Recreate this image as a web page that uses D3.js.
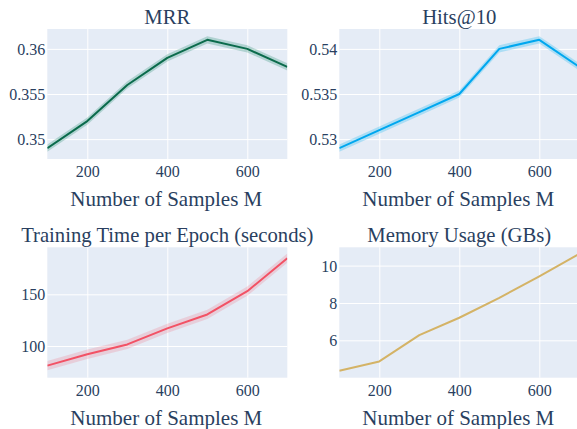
<!DOCTYPE html>
<html><head><meta charset="utf-8">
<script src="https://cdn.jsdelivr.net/npm/d3@7"></script>
<style>
html,body{margin:0;padding:0;background:#fff;overflow:hidden;}
svg{display:block;}
</style></head>
<body>
<svg id="c" width="577" height="429"></svg>
<script>
const samples = [100, 200, 300, 400, 500, 600, 700];
const xTicks = [200, 400, 600];

const mrr      = [0.3490, 0.3520, 0.3560, 0.3590, 0.3610, 0.3600, 0.3580];
const mrrLow   = [0.3486, 0.3516, 0.3556, 0.3586, 0.3606, 0.3596, 0.3576];
const mrrHigh  = [0.3494, 0.3524, 0.3564, 0.3594, 0.3614, 0.3604, 0.3584];

const hits     = [0.5290, 0.5310, 0.5330, 0.5350, 0.5400, 0.5410, 0.5380];
const hitsLow  = [0.5286, 0.5306, 0.5326, 0.5346, 0.5396, 0.5406, 0.5376];
const hitsHigh = [0.5294, 0.5314, 0.5334, 0.5354, 0.5404, 0.5414, 0.5384];

const timeSec  = [81, 92, 101.5, 117, 130.5, 153, 185];
const timeLow  = [76.5, 87.5, 97, 112.5, 126, 148.5, 180.5];
const timeHigh = [85.5, 96.5, 106, 121.5, 135, 157.5, 189.5];

const memory   = [4.37, 4.87, 6.28, 7.21, 8.27, 9.43, 10.63];

const titles = ["MRR", "Hits@10", "Training Time per Epoch (seconds)", "Memory Usage (GBs)"];
const yTicks = [[0.35, 0.355, 0.36], [0.53, 0.535, 0.54], [100, 150], [6, 8, 10]];
const yFormats = [d3.format(""), d3.format(""), d3.format("d"), d3.format("d")];
const yDomains = [[0.3478, 0.3622], [0.5278, 0.5422], [69.3, 195.5], [4.0, 10.98]];
const xLabel = "Number of Samples M";

const FONT = "Liberation Serif";
const INK = "#2a3f5f";

const panels = [
  {x0: 47.3, x1: 287.3, y0: 29, y1: 159, v: mrr, lo: mrrLow, hi: mrrHigh, line: "#0b6b4c", band: "rgba(20,130,100,0.25)"},
  {x0: 339.3, x1: 579.3, y0: 29, y1: 159, v: hits, lo: hitsLow, hi: hitsHigh, line: "#00a7ef", band: "rgba(0,175,240,0.25)"},
  {x0: 47.3, x1: 287.3, y0: 247.3, y1: 377.7, v: timeSec, lo: timeLow, hi: timeHigh, line: "#f25265", band: "rgba(240,100,120,0.22)"},
  {x0: 339.3, x1: 579.3, y0: 247.3, y1: 377.7, v: memory, lo: null, hi: null, line: "#d4b366", band: null}
];

const svg = d3.select("#c");

panels.forEach((p, i) => {
  const x = d3.scaleLinear().domain([100, 700]).range([p.x0, p.x1]);
  const y = d3.scaleLinear().domain(yDomains[i]).range([p.y1, p.y0]);
  const g = svg.append("g");
  const clipId = "clip" + i;
  g.append("clipPath").attr("id", clipId).append("rect")
    .attr("x", p.x0).attr("y", p.y0).attr("width", p.x1 - p.x0).attr("height", p.y1 - p.y0);
  g.append("rect").attr("x", p.x0).attr("y", p.y0).attr("width", p.x1 - p.x0).attr("height", p.y1 - p.y0)
    .attr("fill", "#e5ecf6");

  const gx = g.append("g").attr("transform", `translate(0,${p.y1})`)
    .call(d3.axisBottom(x).tickValues(xTicks).tickSize(-(p.y1 - p.y0)).tickSizeOuter(0));
  gx.attr("font-family", FONT).attr("font-size", 16);
  gx.select(".domain").remove();
  gx.selectAll("line").attr("stroke", "#fff").attr("stroke-width", 1);
  gx.selectAll("text").attr("font-family", FONT).attr("font-size", 16).attr("fill", INK)
    .style("font-family", FONT).attr("dy", null).attr("y", 18);

  const gy = g.append("g").attr("transform", `translate(${p.x0},0)`)
    .call(d3.axisLeft(y).tickValues(yTicks[i]).tickFormat(yFormats[i]).tickSize(-(p.x1 - p.x0)).tickSizeOuter(0));
  gy.attr("font-family", FONT).attr("font-size", 16);
  gy.select(".domain").remove();
  gy.selectAll("line").attr("stroke", "#fff").attr("stroke-width", 1);
  gy.selectAll("text").attr("font-family", FONT).attr("font-size", 16).attr("fill", INK)
    .style("font-family", FONT).attr("x", -2).attr("dy", "0.35em");

  const data = samples.map((s, k) => ({s, v: p.v[k], lo: p.lo ? p.lo[k] : null, hi: p.hi ? p.hi[k] : null}));
  const plot = g.append("g").attr("clip-path", `url(#${clipId})`);
  if (p.lo) {
    plot.append("path").datum(data)
      .attr("d", d3.area().x(d => x(d.s)).y0(d => y(d.lo)).y1(d => y(d.hi)))
      .attr("fill", p.band).attr("stroke", "none");
  }
  plot.append("path").datum(data)
    .attr("d", d3.line().x(d => x(d.s)).y(d => y(d.v)))
    .attr("fill", "none").attr("stroke", p.line).attr("stroke-width", 2).attr("stroke-linejoin", "round");

  const cx = (p.x0 + p.x1) / 2;
  svg.append("text").attr("x", cx).attr("y", p.y0 - 5.5).attr("text-anchor", "middle")
    .attr("font-family", FONT).style("font-family", FONT).style("font-size", "20.7px").style("fill", INK).text(titles[i]);
  svg.append("text").attr("x", cx - 1).attr("y", p.y1 + 47).attr("text-anchor", "middle")
    .attr("font-family", FONT).style("font-family", FONT).style("font-size", "21px").style("fill", INK).text(xLabel);
});
</script>
</body></html>
